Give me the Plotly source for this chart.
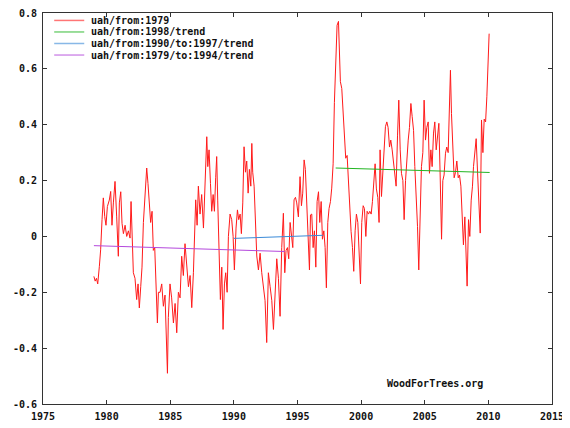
"""
UAH lower-troposphere anomalies with WoodForTrees-style trend lines.
"""

import plotly.graph_objects as go

# monthly-ish UAH anomaly readings (decimal year, deg C)
uah_years = [
    1979.00, 1979.10, 1979.20, 1979.30, 1979.43, 1979.53, 1979.64, 1979.74, 1979.85, 1979.95,
    1980.06, 1980.21, 1980.32, 1980.42, 1980.53, 1980.66, 1980.79, 1980.92, 1981.00, 1981.11,
    1981.21, 1981.32, 1981.45, 1981.58, 1981.71, 1981.84, 1981.92, 1982.00, 1982.10, 1982.23,
    1982.36, 1982.47, 1982.57, 1982.68, 1982.78, 1982.89, 1983.02, 1983.15, 1983.25, 1983.36,
    1983.46, 1983.57, 1983.67, 1983.78, 1983.88, 1983.99, 1984.07, 1984.20, 1984.33, 1984.46,
    1984.59, 1984.72, 1984.78, 1984.85, 1984.98, 1985.11, 1985.25, 1985.38, 1985.51, 1985.64,
    1985.77, 1985.90, 1986.03, 1986.16, 1986.29, 1986.43, 1986.56, 1986.69, 1986.82, 1986.90,
    1987.00, 1987.11, 1987.21, 1987.34, 1987.47, 1987.61, 1987.74, 1987.87, 1987.95, 1988.05,
    1988.16, 1988.26, 1988.37, 1988.47, 1988.57, 1988.65, 1988.73, 1988.84, 1988.94, 1989.05,
    1989.15, 1989.26, 1989.36, 1989.47, 1989.57, 1989.70, 1989.83, 1989.94, 1990.04, 1990.17,
    1990.28, 1990.38, 1990.49, 1990.59, 1990.70, 1990.80, 1990.91, 1991.01, 1991.12, 1991.22,
    1991.33, 1991.41, 1991.48, 1991.59, 1991.69, 1991.80, 1991.93, 1992.06, 1992.19, 1992.32,
    1992.45, 1992.58, 1992.71, 1992.85, 1992.98, 1993.11, 1993.24, 1993.37, 1993.50, 1993.63,
    1993.76, 1993.89, 1994.00, 1994.10, 1994.21, 1994.31, 1994.42, 1994.52, 1994.63, 1994.73,
    1994.84, 1994.94, 1995.07, 1995.20, 1995.31, 1995.41, 1995.52, 1995.62, 1995.72, 1995.83,
    1995.94, 1996.02, 1996.12, 1996.23, 1996.33, 1996.44, 1996.54, 1996.65, 1996.75, 1996.86,
    1996.96, 1997.07, 1997.17, 1997.27, 1997.38, 1997.48, 1997.59, 1997.69, 1997.80, 1997.90,
    1998.01, 1998.11, 1998.22, 1998.30, 1998.37, 1998.48, 1998.58, 1998.69, 1998.79, 1998.90,
    1999.00, 1999.11, 1999.21, 1999.32, 1999.42, 1999.53, 1999.63, 1999.74, 1999.84, 1999.95,
    2000.05, 2000.16, 2000.26, 2000.37, 2000.47, 2000.58, 2000.68, 2000.79, 2000.89, 2000.99,
    2001.10, 2001.20, 2001.31, 2001.41, 2001.49, 2001.60, 2001.70, 2001.81, 2001.91, 2002.02,
    2002.12, 2002.23, 2002.33, 2002.44, 2002.54, 2002.65, 2002.75, 2002.86, 2002.96, 2003.07,
    2003.17, 2003.28, 2003.38, 2003.49, 2003.59, 2003.70, 2003.80, 2003.91, 2004.01, 2004.12,
    2004.22, 2004.32, 2004.43, 2004.53, 2004.64, 2004.74, 2004.85, 2004.95, 2005.06, 2005.16,
    2005.27, 2005.37, 2005.48, 2005.58, 2005.69, 2005.79, 2005.90, 2006.00, 2006.11, 2006.21,
    2006.32, 2006.42, 2006.52, 2006.63, 2006.73, 2006.84, 2006.94, 2007.02, 2007.10, 2007.21,
    2007.31, 2007.42, 2007.52, 2007.63, 2007.73, 2007.84, 2007.94, 2008.04, 2008.15, 2008.25,
    2008.33, 2008.44, 2008.54, 2008.65, 2008.75, 2008.83, 2008.94, 2009.04, 2009.15, 2009.25,
    2009.36, 2009.46, 2009.57, 2009.67, 2009.78, 2009.88, 2009.96, 2010.06,
]
uah_anom = [
    -0.143, -0.160, -0.150, -0.170, -0.107, -0.048, 0.060, 0.138, 0.071, 0.040,
    0.107, 0.130, 0.161, 0.040, 0.120, 0.197, 0.070, -0.071, 0.120, 0.160,
    0.047, 0.010, 0.040, 0.000, 0.020, -0.006, 0.125, -0.030, -0.130, -0.150,
    -0.226, -0.170, -0.256, -0.180, -0.110, 0.050, 0.130, 0.245, 0.190, 0.120,
    0.050, 0.090, -0.050, -0.040, -0.180, -0.310, -0.200, -0.200, -0.170, -0.250,
    -0.210, -0.430, -0.490, -0.290, -0.170, -0.220, -0.310, -0.240, -0.345, -0.200,
    -0.220, -0.071, -0.140, -0.026, -0.110, -0.180, -0.140, -0.255, -0.130, 0.000,
    0.131, 0.040, 0.180, 0.080, 0.150, 0.030, 0.227, 0.357, 0.250, 0.310,
    0.190, 0.090, 0.150, 0.090, 0.210, 0.286, 0.130, -0.040, -0.226, -0.110,
    -0.333, -0.170, -0.130, -0.200, 0.000, 0.080, 0.060, 0.000, -0.120, 0.030,
    0.095, 0.060, 0.080, 0.010, 0.120, 0.321, 0.230, 0.270, 0.155, 0.240,
    0.180, 0.333, 0.230, 0.180, 0.040, -0.070, -0.120, -0.060, -0.130, -0.190,
    -0.230, -0.380, -0.130, -0.180, -0.230, -0.333, -0.200, -0.080, -0.150, -0.286,
    -0.040, 0.083, -0.130, -0.050, -0.040, -0.080, 0.050, 0.000, -0.040, 0.131,
    0.140, 0.120, 0.070, 0.214, 0.110, 0.155, 0.274, 0.240, 0.120, 0.010,
    -0.120, 0.077, 0.080, -0.040, 0.020, -0.110, 0.125, 0.160, 0.050, 0.125,
    -0.010, 0.020, -0.040, -0.184, 0.050, 0.100, 0.125, 0.173, 0.260, 0.480,
    0.673, 0.756, 0.770, 0.670, 0.554, 0.530, 0.435, 0.370, 0.280, 0.290,
    0.197, 0.125, 0.018, -0.040, -0.125, 0.020, 0.080, 0.050, -0.040, -0.170,
    0.050, 0.110, 0.100, 0.000, 0.090, 0.080, 0.090, 0.080, 0.125, 0.197,
    0.260, 0.170, 0.140, 0.050, 0.310, 0.143, 0.220, 0.290, 0.393, 0.410,
    0.390, 0.320, 0.345, 0.310, 0.270, 0.240, 0.180, 0.360, 0.488, 0.310,
    0.226, 0.200, 0.060, 0.200, 0.290, 0.345, 0.390, 0.476, 0.430, 0.380,
    0.250, 0.170, 0.036, -0.120, 0.100, 0.250, 0.300, 0.488, 0.345, 0.390,
    0.410, 0.226, 0.310, 0.250, 0.370, 0.410, 0.310, 0.360, 0.405, 0.220,
    -0.010, 0.200, 0.220, 0.298, 0.320, 0.300, 0.460, 0.595, 0.440, 0.320,
    0.210, 0.230, 0.270, 0.210, 0.220, 0.180, 0.036, -0.030, 0.070, -0.060,
    -0.178, 0.060, 0.000, 0.130, 0.180, 0.250, 0.320, 0.350, 0.230, 0.130,
    0.012, 0.417, 0.300, 0.420, 0.410, 0.500, 0.620, 0.726,
]

# trend lines as drawn by WoodForTrees (start/end of each fit)
trend_1998_years = [1998.0, 2010.1]
trend_1998_vals = [0.245, 0.229]
trend_1990_1997_years = [1990.0, 1997.0]
trend_1990_1997_vals = [-0.007, 0.004]
trend_1979_1994_years = [1979.0, 1994.0]
trend_1979_1994_vals = [-0.033, -0.054]

series_names = [
    "uah/from:1979",
    "uah/from:1998/trend",
    "uah/from:1990/to:1997/trend",
    "uah/from:1979/to:1994/trend",
]
series_colors = ["#ff1a1a", "#22b522", "#3a8ad8", "#b448dc"]

y_tick_vals = [0.8, 0.6, 0.4, 0.2, 0.0, -0.2, -0.4, -0.6]
y_tick_text = ["0.8", "0.6", "0.4", "0.2", "0", "-0.2", "-0.4", "-0.6"]

MONO = dict(family="DejaVu Sans Mono", size=10, color="#111", weight="bold")

fig = go.Figure()
series = [
    (uah_years, uah_anom),
    (trend_1998_years, trend_1998_vals),
    (trend_1990_1997_years, trend_1990_1997_vals),
    (trend_1979_1994_years, trend_1979_1994_vals),
]
for (xs, ys), name, color in zip(series, series_names, series_colors):
    fig.add_trace(go.Scatter(
        x=xs, y=ys, mode="lines", name=name,
        line=dict(color=color, width=1), showlegend=False,
    ))

# compact legend like the WoodForTrees one (plotly's own rows are too tall)
for i, (name, color) in enumerate(zip(series_names, series_colors)):
    ly = 0.981 - i * 0.0295
    fig.add_shape(
        type="line", xref="paper", yref="paper",
        x0=0.022, x1=0.081, y0=ly, y1=ly,
        line=dict(color=color, width=1.5), opacity=0.6,
    )
    fig.add_annotation(
        text=name, xref="paper", yref="paper", x=0.090, y=ly,
        xanchor="left", yanchor="middle", showarrow=False, font=MONO,
    )

axis_style = dict(
    showgrid=False, zeroline=False, showline=True, linecolor="#333", linewidth=1,
    mirror="ticks", ticks="inside", ticklen=4, tickcolor="#333", tickfont=MONO,
    automargin=False, ticklabeloverflow="allow", ticklabelstandoff=3,
)
fig.update_xaxes(range=[1975, 2015], dtick=5, tick0=1975, **axis_style)
fig.update_yaxes(range=[-0.6, 0.8], tickvals=y_tick_vals, ticktext=y_tick_text, **axis_style)

fig.add_annotation(
    text="WoodForTrees.org", xref="paper", yref="paper", x=0.868, y=0.033,
    showarrow=False, font=MONO,
)

# the page body adds an 8px offset, so the figure is sized to the rest of the window
fig.update_layout(
    width=562, height=420,
    margin=dict(l=35, r=18, t=5, b=24),
    plot_bgcolor="white", paper_bgcolor="white",
    font=MONO,
    showlegend=False,
)

fig.write_html("out.html")
